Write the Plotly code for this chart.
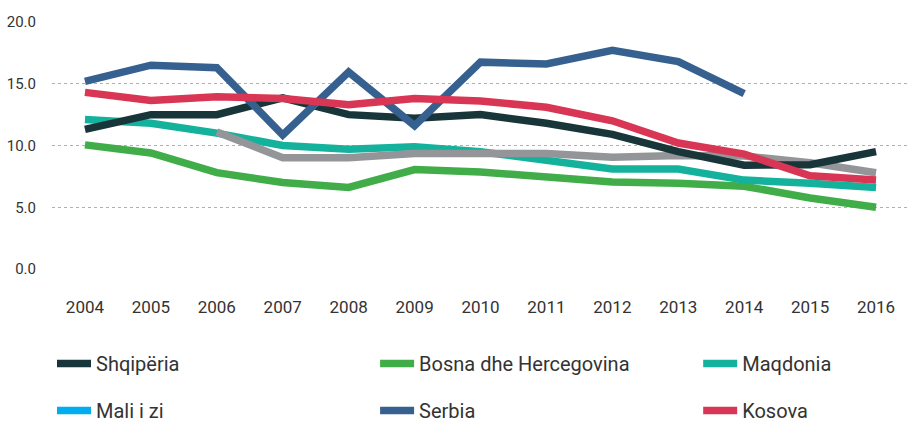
import plotly.graph_objects as go

years = ["2004", "2005", "2006", "2007", "2008", "2009", "2010", "2011", "2012", "2013", "2014", "2015", "2016"]

shqiperia = [11.3, 12.5, 12.5, 13.85, 12.5, 12.2, 12.5, 11.8, 10.9, 9.5, 8.4, 8.45, 9.5]
bosna = [10.05, 9.4, 7.8, 7.0, 6.6, 8.05, 7.85, 7.4, 7.05, 6.95, 6.7, 5.75, 5.0]
maqdonia = [12.1, 11.8, 11.0, 10.0, 9.7, 9.9, 9.5, 8.8, 8.1, 8.1, 7.2, 6.95, 6.6]
mali_i_zi = [None, None, 11.1, 9.0, 9.0, 9.35, 9.35, 9.35, 9.05, 9.2, 9.15, 8.6, 7.8]
serbia = [15.2, 16.5, 16.3, 10.85, 15.95, 11.6, 16.75, 16.6, 17.7, 16.8, 14.2, None, None]
kosova = [14.3, 13.65, 13.95, 13.8, 13.3, 13.8, 13.6, 13.1, 12.0, 10.2, 9.3, 7.55, 7.2]

ytick_vals = [0, 5, 10, 15, 20]
ytick_text = ["0.0", "5.0", "10.0", "15.0", "20.0"]

FONT = "Roboto, 'Open Sans', sans-serif"
W = 7.5

fig = go.Figure()

def line(name, ys, color, legend, group, showlegend=True):
    fig.add_trace(go.Scatter(
        x=years, y=ys, name=name, mode="lines",
        line=dict(color=color, width=W),
        legend=legend, legendgroup=group, showlegend=showlegend,
        connectgaps=False, hoverinfo="x+y+name",
    ))

# draw order (back to front)
line("Bosna dhe Hercegovina", bosna, "#41AD49", "legend2", "g2")
line("Maqdonia", maqdonia, "#14B29D", "legend3", "g3")
line("Mali i zi", mali_i_zi, "#949599", "legend", "g4", showlegend=False)
line("Shqipëria", shqiperia, "#18353A", "legend", "g1")
line("Serbia", serbia, "#36608F", "legend2", "g5")
line("Kosova", kosova, "#D83654", "legend3", "g6")

# legend entry for Mali i zi (legend colour as in the original)
fig.add_trace(go.Scatter(
    x=[None], y=[None], name="Mali i zi", mode="lines",
    line=dict(color="#00AEEF", width=W), legend="legend", legendgroup="g4",
))

legend_common = dict(
    orientation="v", yanchor="top", xanchor="left",
    font=dict(family=FONT, size=20, color="#333333"),
    tracegroupgap=18, traceorder="grouped", bgcolor="rgba(0,0,0,0)",
    itemclick=False, itemdoubleclick=False, itemwidth=34,
)

fig.update_layout(
    width=909, height=422,
    margin=dict(l=52, r=0, t=22, b=153, autoexpand=False),
    plot_bgcolor="white", paper_bgcolor="white",
    showlegend=True,
    legend=dict(x=0.0, y=-0.304, **legend_common),
    legend2=dict(x=0.377, y=-0.304, **legend_common),
    legend3=dict(x=0.754, y=-0.304, **legend_common),
    xaxis=dict(
        type="category", range=[-0.5, 12.5],
        showgrid=False, zeroline=False, showline=False, ticks="",
        tickfont=dict(family=FONT, size=17, color="#333333"),
        ticklabelstandoff=26, automargin=False,
    ),
    yaxis=dict(
        range=[0, 20], tickvals=ytick_vals, ticktext=ytick_text,
        showgrid=True, gridcolor="#b0b0b0", griddash="dot", gridwidth=1,
        zeroline=False, showline=False, ticks="",
        tickfont=dict(family=FONT, size=15, color="#333333"),
        ticklabelstandoff=15, automargin=False,
    ),
)

fig.write_html("out.html", config={"displayModeBar": False},
               post_script="document.body.style.margin='0';")
